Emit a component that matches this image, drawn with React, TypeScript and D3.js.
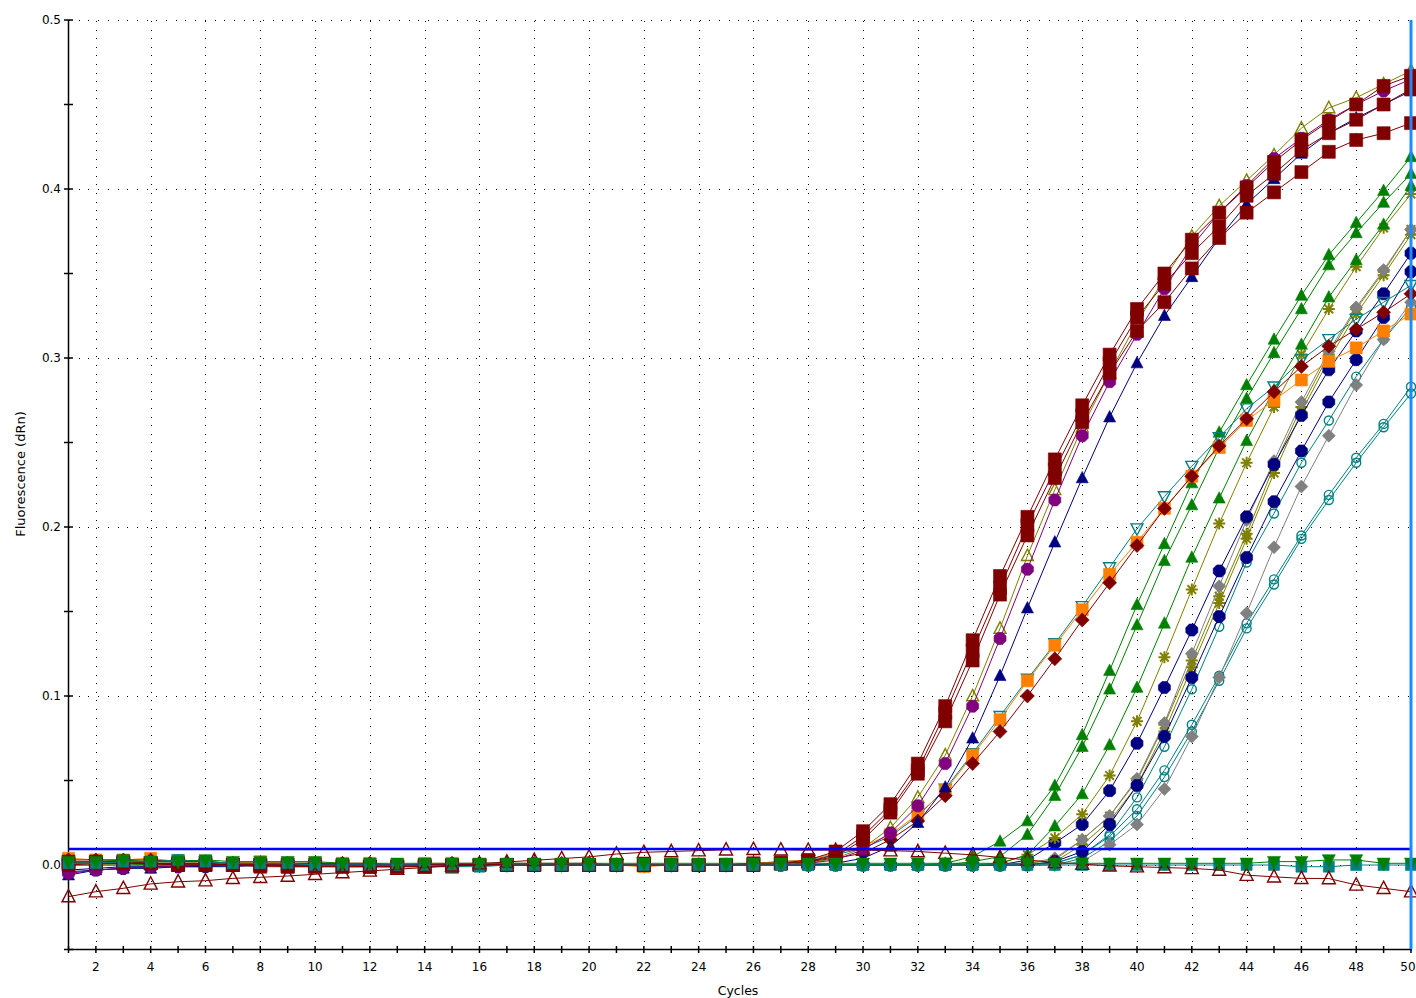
import React, { useEffect, useRef } from 'react';
import * as d3 from 'd3';

// cycle numbers on the x axis
const cycles = d3.range(1, 51);
const xLabelCycles = d3.range(2, 51, 2);
const yTickValues = [-0.05, 0, 0.05, 0.1, 0.15, 0.2, 0.25, 0.3, 0.35, 0.4, 0.45, 0.5];
const yLabelValues = [0, 0.1, 0.2, 0.3, 0.4, 0.5];
const yLabelText = ['0.0', '0.1', '0.2', '0.3', '0.4', '0.5'];
const threshold = 0.0095;

// dRn per cycle (1..50)
const sqA = [0.002,0.002,0.002,0.001,0.001,0.001,0.000,0.000,0.000,0.000, 0.000,-0.001,-0.001,-0.001,-0.001,0.000,0.000,0.000,0.000,0.000, 0.000,0.000,0.000,0.000,0.000,0.001,0.001,0.003,0.008,0.020, 0.036,0.060,0.094,0.133,0.171,0.206,0.240,0.272,0.302,0.329, 0.350,0.370,0.386,0.401,0.416,0.429,0.440,0.450,0.461,0.467];
const sqB = [0.001,0.001,0.001,0.001,0.000,0.000,0.000,0.000,-0.001,-0.001, -0.001,-0.001,-0.001,0.000,0.000,0.000,0.000,0.000,0.000,0.000, 0.000,0.000,0.000,0.000,0.000,0.000,0.001,0.002,0.006,0.017, 0.033,0.056,0.090,0.127,0.164,0.201,0.234,0.266,0.297,0.324, 0.344,0.362,0.378,0.396,0.409,0.423,0.433,0.441,0.450,0.459];
const sqC = [0.000,0.001,0.001,0.001,0.000,0.000,0.000,-0.001,-0.001,-0.001, -0.001,-0.001,-0.001,-0.001,0.000,0.000,0.000,0.000,0.000,0.000, 0.000,0.000,0.000,0.000,0.000,0.000,0.001,0.002,0.005,0.015, 0.031,0.054,0.085,0.121,0.160,0.195,0.229,0.262,0.291,0.316, 0.333,0.353,0.371,0.386,0.398,0.410,0.422,0.429,0.433,0.439];
const purpleOct = [-0.005,-0.003,-0.002,-0.001,-0.001,0.000,0.000,0.000,0.000,0.000, 0.000,0.000,0.000,0.000,0.000,0.000,0.000,0.000,0.000,0.000, 0.000,0.000,0.000,0.000,0.000,0.000,0.000,0.001,0.003,0.009, 0.019,0.035,0.060,0.094,0.134,0.175,0.216,0.254,0.286,0.314, 0.341,0.366,0.386,0.402,0.418,0.430,0.441,0.450,0.458,0.465];
const oliveOpenTri = [0.001,0.001,0.001,0.001,0.000,0.000,0.000,0.000,0.000,0.000, -0.001,-0.001,-0.001,0.000,0.000,0.000,0.000,0.000,0.000,0.000, 0.000,0.000,0.000,0.000,0.000,0.000,0.000,0.001,0.004,0.010, 0.022,0.040,0.065,0.100,0.140,0.183,0.222,0.259,0.291,0.321, 0.347,0.372,0.390,0.405,0.420,0.436,0.448,0.454,0.462,0.470];
const navyTri = [-0.006,-0.003,-0.002,-0.002,-0.001,-0.001,-0.001,0.000,0.000,0.000, 0.000,0.000,0.000,0.000,0.000,0.000,0.000,0.000,0.000,0.000, 0.000,0.000,0.000,0.000,0.000,0.000,0.000,0.000,0.001,0.004, 0.011,0.025,0.046,0.075,0.112,0.152,0.191,0.229,0.265,0.297, 0.325,0.348,0.371,0.391,0.406,0.421,0.433,0.442,0.450,0.458];
const orangeSq = [0.004,0.003,0.003,0.004,0.002,0.002,0.001,0.002,0.001,0.001, 0.001,0.001,0.000,0.001,0.001,0.000,0.000,0.000,0.000,0.000, 0.000,-0.001,0.000,0.000,0.000,0.001,0.002,0.003,0.007,0.011, 0.018,0.030,0.044,0.065,0.086,0.109,0.130,0.151,0.172,0.191, 0.211,0.230,0.247,0.263,0.275,0.287,0.298,0.306,0.316,0.326];
const redDiamond = [0.003,0.003,0.003,0.003,0.002,0.002,0.001,0.001,0.001,0.001, 0.001,0.001,0.000,0.000,0.001,0.001,0.001,0.001,0.001,0.001, 0.000,0.000,0.000,0.000,0.000,0.001,0.001,0.002,0.004,0.007, 0.015,0.026,0.041,0.060,0.079,0.100,0.122,0.145,0.167,0.189, 0.211,0.230,0.248,0.264,0.280,0.295,0.307,0.317,0.327,0.338];
const tealTriDown = [0.001,0.002,0.002,0.002,0.003,0.002,0.001,0.001,0.001,0.001, 0.000,0.000,0.000,0.000,0.000,0.000,0.000,0.000,0.000,0.000, 0.000,0.000,0.000,0.000,0.000,0.001,0.002,0.003,0.006,0.010, 0.017,0.029,0.045,0.066,0.088,0.110,0.131,0.153,0.176,0.199, 0.218,0.236,0.253,0.270,0.283,0.299,0.311,0.323,0.333,0.343];
const greenA = [0.002,0.002,0.002,0.002,0.002,0.002,0.001,0.001,0.001,0.001, 0.001,0.000,0.000,0.000,0.000,0.000,0.000,0.000,0.000,0.000, 0.000,0.000,0.000,0.000,0.000,0.000,0.000,0.000,0.000,0.000, 0.000,0.000,0.001,0.005,0.014,0.026,0.047,0.077,0.115,0.154, 0.190,0.226,0.256,0.284,0.311,0.337,0.361,0.380,0.399,0.419];
const greenB = [0.001,0.001,0.001,0.001,0.001,0.001,0.001,0.001,0.000,0.000, 0.000,0.000,0.000,0.000,0.000,0.000,0.000,0.000,0.000,0.000, 0.000,0.000,0.000,0.000,0.000,0.000,0.000,0.000,0.000,0.000, 0.000,0.000,0.000,0.002,0.005,0.018,0.041,0.070,0.104,0.142, 0.180,0.213,0.247,0.276,0.303,0.329,0.355,0.374,0.392,0.409];
const greenC = [0.001,0.001,0.001,0.000,0.000,0.000,0.000,0.000,0.000,0.000, 0.000,0.000,0.000,0.000,0.000,0.000,0.000,0.000,0.000,0.000, 0.000,0.000,0.000,0.000,0.000,0.000,0.000,0.000,0.000,0.000, 0.000,0.000,0.000,0.000,0.001,0.006,0.023,0.042,0.071,0.105, 0.143,0.182,0.217,0.251,0.281,0.308,0.336,0.358,0.379,0.402];
const oliveStar = [0.001,0.001,0.001,0.001,0.001,0.000,0.000,0.000,0.000,0.000, 0.000,0.000,0.000,0.000,0.000,0.000,0.000,0.000,0.000,0.000, 0.000,0.000,0.000,0.000,0.000,0.000,0.000,0.000,0.000,0.000, 0.000,0.000,0.000,0.000,0.001,0.006,0.016,0.030,0.053,0.085, 0.123,0.163,0.202,0.238,0.271,0.302,0.329,0.354,0.377,0.397];
const navyOctA = [-0.004,-0.003,-0.002,-0.001,-0.001,-0.001,0.000,0.000,0.000,0.000, 0.000,0.000,0.000,0.000,0.000,0.000,0.000,0.000,0.000,0.000, 0.000,0.000,0.000,0.000,0.000,0.000,0.000,0.000,0.000,0.000, 0.000,0.000,0.000,0.000,0.000,0.003,0.013,0.024,0.044,0.072, 0.105,0.139,0.174,0.206,0.237,0.266,0.293,0.316,0.338,0.362];
const navyOctB = [-0.003,-0.002,-0.001,-0.001,-0.001,0.000,0.000,0.000,0.000,0.000, 0.000,0.000,0.000,0.000,0.000,0.000,0.000,0.000,0.000,0.000, 0.000,0.000,0.000,0.000,0.000,0.000,0.000,0.000,0.000,0.000, 0.000,0.000,0.000,0.000,0.000,0.000,0.002,0.008,0.024,0.047, 0.076,0.111,0.147,0.182,0.215,0.245,0.274,0.299,0.324,0.351];
const grayDiamondA = [0.001,0.001,0.001,0.001,0.001,0.001,0.000,0.000,0.000,0.000, 0.000,0.000,0.000,0.000,0.000,0.000,0.000,0.000,0.000,0.000, 0.000,0.000,0.000,0.000,0.000,0.000,0.000,0.000,0.000,0.000, 0.000,0.000,0.000,0.000,0.000,0.001,0.004,0.015,0.029,0.051, 0.084,0.125,0.165,0.204,0.239,0.274,0.304,0.330,0.352,0.376];
const oliveA = [0.001,0.001,0.001,0.000,0.000,0.000,0.000,0.000,0.000,0.000, 0.000,0.000,0.000,0.000,0.000,0.000,0.000,0.000,0.000,0.000, 0.000,0.000,0.000,0.000,0.000,0.000,0.000,0.000,0.000,0.000, 0.000,0.000,0.000,0.000,0.000,0.001,0.003,0.015,0.029,0.050, 0.083,0.121,0.159,0.196,0.236,0.271,0.302,0.329,0.351,0.376];
const oliveB = [0.000,0.000,0.001,0.001,0.000,0.000,0.000,0.000,0.000,0.000, 0.000,0.000,0.000,0.000,0.000,0.000,0.000,0.000,0.000,0.000, 0.000,0.000,0.000,0.000,0.000,0.000,0.000,0.000,0.000,0.000, 0.000,0.000,0.000,0.000,0.000,0.000,0.002,0.012,0.026,0.047, 0.079,0.117,0.155,0.193,0.232,0.268,0.299,0.326,0.349,0.373];
const grayDiamondB = [0.000,0.000,0.000,0.000,0.000,0.000,0.000,0.000,0.000,0.000, 0.000,0.000,0.000,0.000,0.000,0.000,0.000,0.000,0.000,0.000, 0.000,0.000,0.000,0.000,0.000,0.000,0.000,0.000,0.000,0.000, 0.000,0.000,0.000,0.000,0.000,0.000,0.000,0.002,0.012,0.024, 0.045,0.076,0.111,0.149,0.188,0.224,0.254,0.284,0.311,0.333];
const tealCircleA = [0.001,0.001,0.001,0.000,0.000,0.000,0.000,0.000,0.000,0.000, 0.000,0.000,0.000,0.000,0.000,0.000,0.000,0.000,0.000,0.000, 0.000,0.000,0.000,0.000,0.000,0.000,0.000,0.000,0.000,0.000, 0.000,0.000,0.000,0.000,0.000,0.000,0.001,0.006,0.018,0.040, 0.070,0.104,0.141,0.179,0.208,0.238,0.263,0.289,0.311,0.330];
const tealCircleB = [0.000,0.000,0.000,0.000,0.000,0.000,0.000,0.000,0.000,0.000, 0.000,0.000,0.000,0.000,0.000,0.000,0.000,0.000,0.000,0.000, 0.000,0.000,0.000,0.000,0.000,0.000,0.000,0.000,0.000,0.000, 0.000,0.000,0.000,0.000,0.000,0.000,0.001,0.006,0.017,0.033, 0.056,0.083,0.112,0.143,0.169,0.195,0.219,0.241,0.261,0.283];
const tealCircleC = [0.000,0.000,0.000,0.000,0.000,0.000,0.000,0.000,0.000,0.000, 0.000,0.000,0.000,0.000,0.000,0.000,0.000,0.000,0.000,0.000, 0.000,0.000,0.000,0.000,0.000,0.000,0.000,0.000,0.000,0.000, 0.000,0.000,0.000,0.000,0.000,0.000,0.000,0.004,0.014,0.029, 0.052,0.079,0.109,0.140,0.166,0.193,0.216,0.238,0.259,0.279];
// negative controls
const redOpenTri = [-0.0187,-0.0158,-0.0138,-0.0112,-0.0099,-0.0093,-0.0079,-0.0073,-0.0065,-0.0055, -0.0045,-0.0035,-0.0025,-0.0015,-0.0005,0.0008,0.0018,0.0028,0.0038,0.0048, 0.0065,0.0075,0.008,0.0085,0.009,0.0093,0.009,0.0088,0.0088,0.0088, 0.0085,0.008,0.007,0.006,0.0045,0.003,0.0015,0.0005,-0.0005,-0.001, -0.0015,-0.002,-0.003,-0.006,-0.007,-0.0079,-0.008,-0.0118,-0.0138,-0.0158];
const tealSq = [0.001,0.001,0.002,0.002,0.003,0.002,0.001,0.001,0.001,0.000, 0.000,0.000,0.000,0.000,-0.001,-0.001,0.000,0.000,0.000,0.000, 0.000,0.000,0.000,0.000,0.000,0.000,0.000,0.000,0.000,0.000, 0.000,0.000,0.000,0.000,0.000,0.000,0.000,0.000,0.000,0.000, 0.000,0.000,0.000,0.000,0.000,-0.001,-0.001,0.000,0.000,0.000];
const greenTriDown = [0.002,0.002,0.003,0.002,0.002,0.003,0.002,0.002,0.002,0.002, 0.001,0.001,0.001,0.001,0.001,0.001,0.001,0.001,0.001,0.001, 0.001,0.001,0.001,0.001,0.001,0.001,0.001,0.001,0.001,0.001, 0.001,0.001,0.001,0.001,0.001,0.001,0.001,0.001,0.001,0.001, 0.001,0.001,0.001,0.001,0.002,0.002,0.003,0.003,0.001,0.001];

type Shape = 'square' | 'triUp' | 'triDown' | 'diamond' | 'octagon' | 'circle' | 'asterisk';

const series: { values: number[]; color: string; shape: Shape; size: number; open?: boolean }[] = [
  { values: tealCircleC, color: '#008080', shape: 'circle', size: 9, open: true },
  { values: tealCircleB, color: '#008080', shape: 'circle', size: 9, open: true },
  { values: tealCircleA, color: '#008080', shape: 'circle', size: 9, open: true },
  { values: grayDiamondB, color: '#808080', shape: 'diamond', size: 13 },
  { values: oliveB, color: '#808000', shape: 'asterisk', size: 12 },
  { values: oliveA, color: '#808000', shape: 'asterisk', size: 12 },
  { values: grayDiamondA, color: '#808080', shape: 'diamond', size: 13 },
  { values: navyOctB, color: '#000080', shape: 'octagon', size: 13 },
  { values: navyOctA, color: '#000080', shape: 'octagon', size: 13 },
  { values: oliveStar, color: '#808000', shape: 'asterisk', size: 12 },
  { values: greenC, color: '#008000', shape: 'triUp', size: 12 },
  { values: greenB, color: '#008000', shape: 'triUp', size: 12 },
  { values: greenA, color: '#008000', shape: 'triUp', size: 12 },
  { values: tealTriDown, color: '#008080', shape: 'triDown', size: 12, open: true },
  { values: orangeSq, color: '#ff8000', shape: 'square', size: 12 },
  { values: redDiamond, color: '#800000', shape: 'diamond', size: 14 },
  { values: navyTri, color: '#000080', shape: 'triUp', size: 12 },
  { values: oliveOpenTri, color: '#808000', shape: 'triUp', size: 12, open: true },
  { values: purpleOct, color: '#800080', shape: 'octagon', size: 13 },
  { values: sqC, color: '#800000', shape: 'square', size: 13 },
  { values: sqB, color: '#800000', shape: 'square', size: 13 },
  { values: sqA, color: '#800000', shape: 'square', size: 13 },
  { values: tealSq, color: '#008080', shape: 'square', size: 11 },
  { values: redOpenTri, color: '#800000', shape: 'triUp', size: 13, open: true },
  { values: greenTriDown, color: '#008000', shape: 'triDown', size: 13 },
];

function markerPath(shape: Shape, s: number) {
  const h = s / 2;
  switch (shape) {
    case 'square': return `M${-h},${-h}h${s}v${s}h${-s}Z`;
    case 'triUp': return `M0,${-h * 1.1}L${h},${h * 0.8}L${-h},${h * 0.8}Z`;
    case 'triDown': return `M0,${h * 1.1}L${h},${-h * 0.8}L${-h},${-h * 0.8}Z`;
    case 'diamond': return `M0,${-h}L${h},0L0,${h}L${-h},0Z`;
    case 'octagon': {
      const pts = d3.range(8).map(i => {
        const a = Math.PI / 8 + (i * Math.PI) / 4;
        return [h * Math.cos(a), h * Math.sin(a)];
      });
      return 'M' + pts.map(p => p.join(',')).join('L') + 'Z';
    }
    case 'circle': return `M${-h},0a${h},${h} 0 1,0 ${s},0a${h},${h} 0 1,0 ${-s},0Z`;
    case 'asterisk': {
      const d = h * 0.72;
      return `M${-h},0H${h}M0,${-h}V${h}M${-d},${-d}L${d},${d}M${-d},${d}L${d},${-d}`;
    }
  }
}

const W = 1416;
const H = 998;

const App = () => {
  const svgRef = useRef<SVGSVGElement>(null);

  useEffect(() => {
    const svg = d3.select(svgRef.current);
    svg.selectAll('*').remove();

    const x = d3.scaleLinear().domain([1, 50]).range([68.5, 1411]);
    const y = d3.scaleLinear().domain([-0.05, 0.5]).range([949.5, 20]);
    const font = '"DejaVu Sans", sans-serif';

    // dotted grid
    const grid = svg.append('g').attr('stroke', '#000').attr('stroke-width', 1).attr('shape-rendering', 'crispEdges');
    yLabelValues.forEach(v => {
      const yy = Math.round(y(v)) + 0.5;
      grid.append('line').attr('x1', 69).attr('x2', 1411).attr('y1', yy).attr('y2', yy)
        .attr('stroke-dasharray', '1,8.7');
    });
    xLabelCycles.filter(c => c < 50).forEach(c => {
      const xx = Math.round(x(c)) + 0.5;
      grid.append('line').attr('x1', xx).attr('x2', xx).attr('y1', 21).attr('y2', 949)
        .attr('stroke-dasharray', '1,7.6');
    });

    // axes
    const ax = svg.append('g').attr('stroke', '#000').attr('stroke-width', 1.5);
    ax.append('line').attr('x1', 68.5).attr('x2', 68.5).attr('y1', 20).attr('y2', 950);
    ax.append('line').attr('x1', 68).attr('x2', 1412).attr('y1', 949.5).attr('y2', 949.5);
    yTickValues.forEach(v => {
      ax.append('line').attr('x1', 64).attr('x2', 73).attr('y1', y(v)).attr('y2', y(v));
    });
    cycles.forEach(c => {
      ax.append('line').attr('x1', x(c)).attr('x2', x(c)).attr('y1', 946).attr('y2', 953);
    });

    yLabelValues.forEach((v, i) => {
      svg.append('text').attr('x', 61).attr('y', y(v)).attr('dy', '0.35em')
        .attr('text-anchor', 'end').attr('font-family', font).attr('font-size', 12)
        .attr('fill', '#000').text(yLabelText[i]);
    });
    xLabelCycles.forEach(c => {
      svg.append('text').attr('x', c === 50 ? x(c) - 3 : x(c)).attr('y', 967).attr('dy', '0.35em')
        .attr('text-anchor', 'middle').attr('font-family', font).attr('font-size', 12)
        .attr('fill', '#000').text(String(c));
    });

    svg.append('text').attr('x', 738).attr('y', 991).attr('dy', '0.35em')
      .attr('text-anchor', 'middle').attr('font-family', font).attr('font-size', 12.5)
      .text('Cycles');
    svg.append('text').attr('transform', 'translate(20,474) rotate(-90)').attr('dy', '0.35em')
      .attr('text-anchor', 'middle').attr('font-family', font).attr('font-size', 13)
      .text('Fluorescence (dRn)');

    // curves
    const line = d3.line<number>().x((d, i) => x(cycles[i])).y(d => y(d));
    const plot = svg.append('g');
    series.forEach(s => {
      const g = plot.append('g');
      g.append('path').attr('d', line(s.values)).attr('fill', 'none')
        .attr('stroke', s.color).attr('stroke-width', 1);
      const isStroke = s.open || s.shape === 'asterisk';
      g.selectAll('path.m').data(s.values).enter().append('path')
        .attr('class', 'm')
        .attr('transform', (d, i) => `translate(${x(cycles[i])},${y(d)})`)
        .attr('d', markerPath(s.shape, s.size))
        .attr('fill', isStroke ? 'none' : s.color)
        .attr('stroke', s.color)
        .attr('stroke-width', s.shape === 'asterisk' ? 2 : isStroke ? 1.4 : 0.6);
    });

    // threshold and cursor lines
    svg.append('line').attr('x1', 68.5).attr('x2', 1411).attr('y1', y(threshold)).attr('y2', y(threshold))
      .attr('stroke', '#0000ff').attr('stroke-width', 2.5);
    svg.append('line').attr('x1', x(50)).attr('x2', x(50)).attr('y1', 20).attr('y2', 949)
      .attr('stroke', '#1a8cff').attr('stroke-width', 3);
  }, []);

  return (
    <svg ref={svgRef} width={W} height={H}
      style={{ position: 'absolute', left: 0, top: 0, background: '#fff' }} />
  );
};

export default App;
